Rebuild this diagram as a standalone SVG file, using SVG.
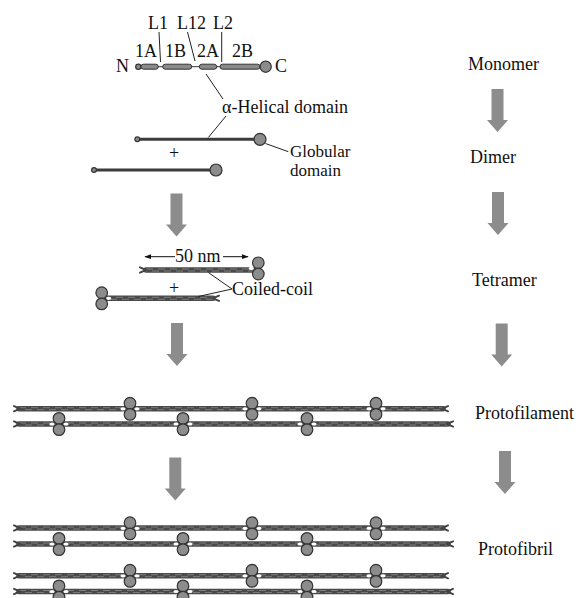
<svg xmlns="http://www.w3.org/2000/svg" width="579" height="598" viewBox="0 0 579 598">
  <style>
    .t { font-family: "Liberation Serif", "Times New Roman", serif; font-size: 18px; fill: #111; }
    .s { font-size: 17px; }
    .lead { stroke: #222; stroke-width: 1; fill: none; }
    .seg { fill: #8a8a8a; stroke: #333; stroke-width: 1; }
    .glob { fill: #8c8c8c; stroke: #333; stroke-width: 1.2; }
    .rod { stroke: #3c3c3c; stroke-width: 3; stroke-linecap: round; fill: none; }
    .rope { stroke: #4a4a4a; stroke-width: 5.5; stroke-linecap: round; fill: none; }
    .twA { stroke: #7c7c7c; stroke-width: 1; stroke-dasharray: 7 5; fill: none; }
    .twB { stroke: #7c7c7c; stroke-width: 1; stroke-dasharray: 7 5; stroke-dashoffset: 6; fill: none; }
    .fork { stroke: #444; stroke-width: 2; stroke-linecap: round; fill: none; }
    .arrow { fill: #8c8c8c; }
  </style>
  <defs>
    <!-- block arrow, origin at top centre of the shaft -->
    <path id="arr" class="arrow" d="M-6,0 H6 V31 H10.5 L0,43 L-10.5,31 H-6 Z"/>
    <!-- pair of globular heads where two tetramers meet -->
    <g id="knot">
      <ellipse cx="-7" cy="0" rx="2.6" ry="1.6" fill="#fff"/>
      <ellipse cx="7" cy="0" rx="2.6" ry="1.6" fill="#fff"/>
      <circle cx="0" cy="-5.6" r="5.8" class="glob"/>
      <circle cx="0" cy="5.6" r="5.8" class="glob"/>
    </g>
    <!-- frayed tail ends -->
    <path id="forkL" class="fork" d="M6,0 L0,-2.6 M6,0 L0,2.6"/>
    <path id="forkR" class="fork" d="M-6,0 L0,-2.6 M-6,0 L0,2.6"/>
    <marker id="head" viewBox="0 0 10 10" refX="9" refY="5" markerWidth="7" markerHeight="7" orient="auto-start-reverse">
      <path d="M0,1.5 L10,5 L0,8.5 Z" fill="#111"/>
    </marker>
  </defs>

  <rect width="579" height="598" fill="#fff"/>

  <!-- Monomer: rod domain with segments and linkers -->
  <g id="monomer">
    <text class="t" x="148" y="29">L1</text>
    <text class="t" x="177" y="29">L12</text>
    <text class="t" x="213" y="29">L2</text>
    <line class="lead" x1="159" y1="32" x2="160.5" y2="62"/>
    <line class="lead" x1="187.5" y1="32" x2="195" y2="61"/>
    <line class="lead" x1="221.7" y1="32" x2="221.7" y2="62"/>
    <text class="t" x="135" y="57">1A</text>
    <text class="t" x="165" y="57">1B</text>
    <text class="t" x="197" y="57">2A</text>
    <text class="t" x="232" y="57">2B</text>
    <text class="t" x="116" y="72">N</text>
    <text class="t" x="275" y="72">C</text>
    <line x1="138" y1="66.7" x2="262" y2="66.7" stroke="#333" stroke-width="1"/>
    <circle cx="138.3" cy="66.7" r="2.6" class="glob"/>
    <rect class="seg" x="141" y="64.2" width="17.3" height="5" rx="2.5"/>
    <rect class="seg" x="162.7" y="64.2" width="29" height="5" rx="2.5"/>
    <rect class="seg" x="199.3" y="64.2" width="17.4" height="5" rx="2.5"/>
    <rect class="seg" x="220" y="64.2" width="40" height="5" rx="2.5"/>
    <circle cx="265.7" cy="66.7" r="5.6" class="glob"/>
  </g>

  <!-- Dimer -->
  <g id="dimer">
    <line class="lead" x1="206" y1="74" x2="223" y2="99"/>
    <text class="t" x="222" y="113">α-Helical domain</text>
    <line class="lead" x1="226" y1="116" x2="208.3" y2="137.5"/>
    <line class="rod" x1="137.3" y1="139.3" x2="256" y2="139.3"/>
    <circle cx="137.3" cy="139.3" r="2.4" class="glob"/>
    <circle cx="260" cy="139.3" r="6" class="glob"/>
    <text class="t" x="169" y="159">+</text>
    <line class="rod" x1="94" y1="170" x2="212" y2="170"/>
    <circle cx="94" cy="170" r="2.4" class="glob"/>
    <circle cx="216" cy="170" r="6" class="glob"/>
    <line class="lead" x1="265.5" y1="143.5" x2="288.3" y2="151.7"/>
    <text class="t s" x="290" y="157">Globular</text>
    <text class="t s" x="290" y="175.5">domain</text>
  </g>

  <!-- Tetramer -->
  <g id="tetramer">
    <line x1="175" y1="256.7" x2="145" y2="256.7" stroke="#111" stroke-width="1" marker-end="url(#head)"/>
    <text class="t" x="175" y="262">50 nm</text>
    <line x1="223" y1="256.7" x2="248" y2="256.7" stroke="#111" stroke-width="1" marker-end="url(#head)"/>
    <line class="rope" x1="146" y1="270" x2="254" y2="270"/>
    <line class="twA" x1="146" y1="269" x2="254" y2="269"/>
    <line class="twB" x1="146" y1="271" x2="254" y2="271"/>
    <use href="#forkL" x="140" y="270"/>
    <use href="#knot" x="258.3" y="268.4"/>
    <text class="t" x="169" y="294">+</text>
    <line class="rope" x1="104" y1="298.3" x2="213" y2="298.3"/>
    <line class="twA" x1="104" y1="297.3" x2="213" y2="297.3"/>
    <line class="twB" x1="104" y1="299.3" x2="213" y2="299.3"/>
    <use href="#forkR" x="219" y="298.3"/>
    <use href="#knot" x="101.7" y="298.3"/>
    <line class="lead" x1="232" y1="289" x2="208.3" y2="272.5"/>
    <line class="lead" x1="232" y1="289" x2="198.3" y2="296.5"/>
    <text class="t" x="232" y="295">Coiled-coil</text>
  </g>

  <!-- Protofilament: two staggered strands of tetramers -->
  <g id="protofilament">
    <line class="rope" x1="19" y1="408.7" x2="443" y2="408.7"/>
    <line class="twA" x1="19" y1="407.7" x2="443" y2="407.7"/>
    <line class="twB" x1="19" y1="409.7" x2="443" y2="409.7"/>
    <use href="#forkL" x="14" y="408.7"/>
    <use href="#forkR" x="448" y="408.7"/>
    <use href="#knot" x="130" y="408.8"/>
    <use href="#knot" x="252" y="408.8"/>
    <use href="#knot" x="376" y="408.8"/>
    <line class="rope" x1="19" y1="424" x2="448" y2="424"/>
    <line class="twA" x1="19" y1="423" x2="448" y2="423"/>
    <line class="twB" x1="19" y1="425" x2="448" y2="425"/>
    <use href="#forkL" x="14" y="424"/>
    <use href="#forkR" x="453" y="424"/>
    <use href="#knot" x="59" y="424"/>
    <use href="#knot" x="183" y="424"/>
    <use href="#knot" x="307" y="424"/>
  </g>

  <!-- Protofibril: two protofilaments side by side -->
  <g id="protofibril">
    <line class="rope" x1="19" y1="528" x2="443" y2="528"/>
    <line class="twA" x1="19" y1="527" x2="443" y2="527"/>
    <line class="twB" x1="19" y1="529" x2="443" y2="529"/>
    <use href="#forkL" x="14" y="528"/>
    <use href="#forkR" x="448" y="528"/>
    <use href="#knot" x="130" y="528.3"/>
    <use href="#knot" x="252" y="528.3"/>
    <use href="#knot" x="376" y="528.3"/>
    <line class="rope" x1="19" y1="544" x2="448" y2="544"/>
    <line class="twA" x1="19" y1="543" x2="448" y2="543"/>
    <line class="twB" x1="19" y1="545" x2="448" y2="545"/>
    <use href="#forkL" x="14" y="544"/>
    <use href="#forkR" x="453" y="544"/>
    <use href="#knot" x="59" y="544"/>
    <use href="#knot" x="183" y="544"/>
    <use href="#knot" x="307" y="544"/>
    <line class="rope" x1="19" y1="575.7" x2="443" y2="575.7"/>
    <line class="twA" x1="19" y1="574.7" x2="443" y2="574.7"/>
    <line class="twB" x1="19" y1="576.7" x2="443" y2="576.7"/>
    <use href="#forkL" x="14" y="575.7"/>
    <use href="#forkR" x="448" y="575.7"/>
    <use href="#knot" x="130" y="575.8"/>
    <use href="#knot" x="252" y="575.8"/>
    <use href="#knot" x="376" y="575.8"/>
    <line class="rope" x1="19" y1="591.5" x2="448" y2="591.5"/>
    <line class="twA" x1="19" y1="590.5" x2="448" y2="590.5"/>
    <line class="twB" x1="19" y1="592.5" x2="448" y2="592.5"/>
    <use href="#forkL" x="14" y="591.5"/>
    <use href="#forkR" x="453" y="591.5"/>
    <use href="#knot" x="59" y="591.5"/>
    <use href="#knot" x="183" y="591.5"/>
    <use href="#knot" x="307" y="591.5"/>
  </g>

  <!-- Stage names -->
  <g id="stage-labels">
    <text class="t" x="468" y="70">Monomer</text>
    <text class="t" x="470" y="163">Dimer</text>
    <text class="t" x="472" y="286">Tetramer</text>
    <text class="t" x="475" y="419">Protofilament</text>
    <text class="t" x="478" y="555">Protofibril</text>
  </g>

  <!-- Assembly arrows -->
  <g id="connectors">
    <use href="#arr" x="497.5" y="89"/>
    <use href="#arr" x="498" y="192"/>
    <use href="#arr" x="501.7" y="323.5"/>
    <use href="#arr" x="505" y="451"/>
    <use href="#arr" x="176.5" y="193.5"/>
    <use href="#arr" x="177" y="323"/>
    <use href="#arr" x="175.3" y="457.5"/>
  </g>
</svg>
